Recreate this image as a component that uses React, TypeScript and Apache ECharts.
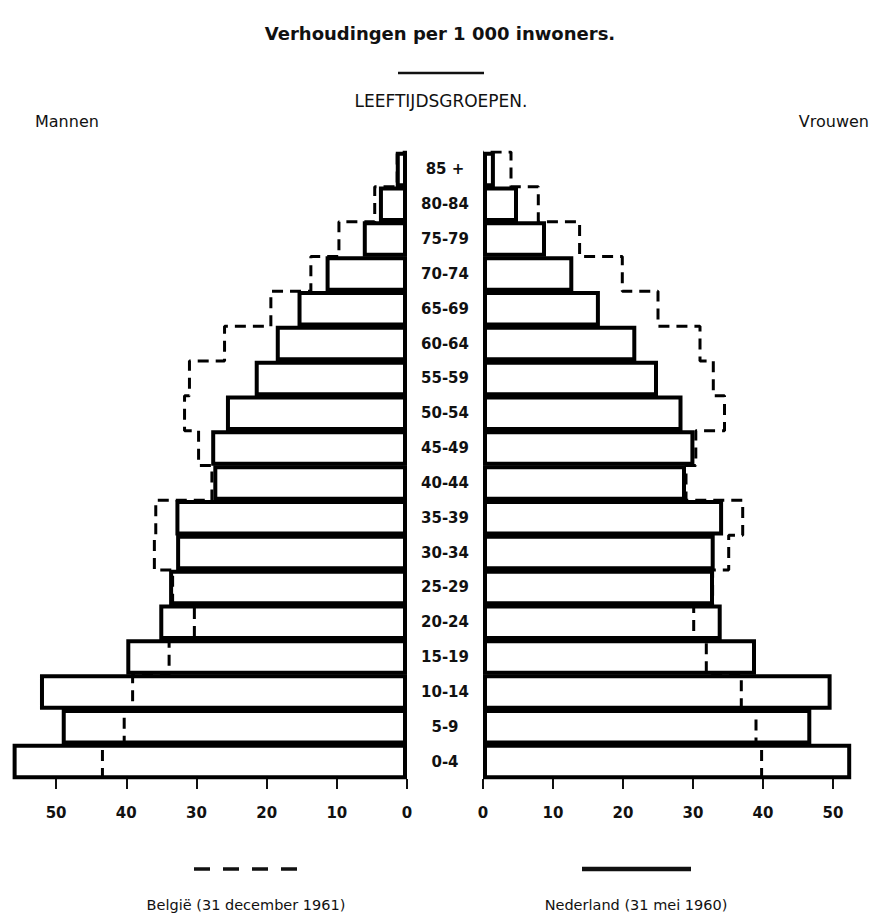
import React, { useEffect, useRef } from "react";
import * as echarts from "echarts";

const ageGroups = ["0-4", "5-9", "10-14", "15-19", "20-24", "25-29", "30-34", "35-39", "40-44", "45-49", "50-54", "55-59", "60-64", "65-69", "70-74", "75-79", "80-84", "85 +"];
// Nederland (31 mei 1960) — solid bars
const nlMannen = [56.2, 49.2, 52.3, 40.0, 35.3, 33.9, 32.9, 33.0, 27.6, 27.9, 25.8, 21.7, 18.7, 15.6, 11.6, 6.3, 4.0, 1.6];
const nlVrouwen = [52.6, 46.9, 49.8, 39.0, 34.1, 33.0, 33.1, 34.3, 29.0, 30.2, 28.5, 25.0, 21.9, 16.7, 12.9, 9.0, 5.0, 1.7];
// België (31 december 1961) — dashed outline
const beMannen = [43.4, 40.3, 39.1, 33.9, 30.3, 33.4, 36.0, 35.8, 27.8, 29.7, 31.7, 31.0, 26.0, 19.4, 13.7, 9.7, 4.6, 1.4];
const beVrouwen = [39.8, 39.0, 36.9, 31.9, 30.1, 32.8, 35.1, 37.1, 29.0, 30.4, 34.5, 32.9, 31.0, 25.0, 19.9, 13.8, 7.9, 4.0];
const xTicks = [0, 10, 20, 30, 40, 50];

const FONT = "'DejaVu Sans', sans-serif";

function stepOutline(values: number[]): number[][] {
  const pts: number[][] = [];
  values.forEach((v, i) => {
    pts.push([v, i]);
    pts.push([v, i + 1]);
  });
  pts.push([0, values.length]);
  return pts;
}

export default function App() {
  const ref = useRef<HTMLDivElement>(null);
  useEffect(() => {
    if (!ref.current) return;
    const chart = echarts.init(ref.current, null, { renderer: "svg" });
    const gridTop = 152;
    const gridH = 627;
    const xAxisCommon = {
      type: "value",
      min: 0,
      interval: 10,
      splitLine: { show: false },
      axisLine: { show: false },
      axisTick: { show: true, length: 10, customValues: xTicks, lineStyle: { color: "#111", width: 2 } },
      axisLabel: {
        margin: 26,
        color: "#111",
        fontFamily: FONT,
        fontWeight: "bold",
        fontSize: 15,
        customValues: xTicks,
      },
    };
    const catAxis = {
      type: "category",
      data: ageGroups,
      axisLine: { show: false },
      axisTick: { show: false },
      splitLine: { show: false },
    };
    const valY = {
      type: "value",
      min: 0,
      max: ageGroups.length,
      show: false,
    };
    const barStyle = { color: "#fff", borderColor: "#000", borderWidth: 4 };
    const dashStyle = { color: "#000", width: 3, type: [11, 7] };
    chart.setOption({
      animation: false,
      grid: [
        { left: 7, width: 400, top: gridTop, height: gridH, containLabel: false, outerBoundsMode: "none" },
        { left: 483, width: 385, top: gridTop, height: gridH, containLabel: false, outerBoundsMode: "none" },
      ],
      xAxis: [
        { ...xAxisCommon, gridIndex: 0, max: 57, inverse: true },
        { ...xAxisCommon, gridIndex: 1, max: 55 },
      ],
      yAxis: [
        { ...catAxis, gridIndex: 0, position: "right", axisLabel: { show: false } },
        {
          ...catAxis,
          gridIndex: 1,
          position: "left",
          axisLabel: {
            show: true,
            margin: 38,
            align: "center",
            color: "#111",
            fontFamily: FONT,
            fontWeight: "bold",
            fontSize: 15,
          },
        },
        { ...valY, gridIndex: 0 },
        { ...valY, gridIndex: 1 },
      ],
      series: [
        {
          name: "Nederland Mannen",
          type: "bar",
          xAxisIndex: 0,
          yAxisIndex: 0,
          data: nlMannen,
          barWidth: 35.5,
          itemStyle: barStyle,
          z: 2,
        },
        {
          name: "Nederland Vrouwen",
          type: "bar",
          xAxisIndex: 1,
          yAxisIndex: 1,
          data: nlVrouwen,
          barWidth: 35.5,
          itemStyle: barStyle,
          z: 2,
        },
        {
          name: "België Mannen",
          type: "line",
          xAxisIndex: 0,
          yAxisIndex: 2,
          data: stepOutline(beMannen),
          showSymbol: false,
          symbol: "none",
          lineStyle: dashStyle,
          z: 3,
        },
        {
          name: "België Vrouwen",
          type: "line",
          xAxisIndex: 1,
          yAxisIndex: 3,
          data: stepOutline(beVrouwen),
          showSymbol: false,
          symbol: "none",
          lineStyle: dashStyle,
          z: 3,
        },
      ],
      graphic: [
        {
          type: "text",
          x: 440,
          y: 33,
          style: { text: "Verhoudingen per 1 000 inwoners.", font: `bold 18px ${FONT}`, fill: "#111", textAlign: "center", textVerticalAlign: "middle" },
        },
        { type: "line", shape: { x1: 398, y1: 73, x2: 484, y2: 73 }, style: { stroke: "#111", lineWidth: 2.5 } },
        {
          type: "text",
          x: 441,
          y: 101,
          style: { text: "LEEFTIJDSGROEPEN.", font: `17px ${FONT}`, fill: "#111", textAlign: "center", textVerticalAlign: "middle" },
        },
        {
          type: "text",
          x: 35,
          y: 121,
          style: { text: "Mannen", font: `16px ${FONT}`, fill: "#111", textAlign: "left", textVerticalAlign: "middle" },
        },
        {
          type: "text",
          x: 869,
          y: 121,
          style: { text: "Vrouwen", font: `16px ${FONT}`, fill: "#111", textAlign: "right", textVerticalAlign: "middle" },
        },
        { type: "line", shape: { x1: 194, y1: 869, x2: 300, y2: 869 }, style: { stroke: "#111", lineWidth: 3.5, lineDash: [16, 13] } },
        { type: "line", shape: { x1: 582, y1: 869, x2: 691, y2: 869 }, style: { stroke: "#111", lineWidth: 4.5 } },
        {
          type: "text",
          x: 246,
          y: 905,
          style: { text: "België (31 december 1961)", font: `14.5px ${FONT}`, fill: "#111", textAlign: "center", textVerticalAlign: "middle" },
        },
        {
          type: "text",
          x: 636,
          y: 905,
          style: { text: "Nederland (31 mei 1960)", font: `14.5px ${FONT}`, fill: "#111", textAlign: "center", textVerticalAlign: "middle" },
        },
      ],
    });
    return () => chart.dispose();
  }, []);
  return (
    <div
      ref={ref}
      style={{ position: "fixed", left: 0, top: 0, width: 880, height: 920, background: "#fff" }}
    />
  );
}
